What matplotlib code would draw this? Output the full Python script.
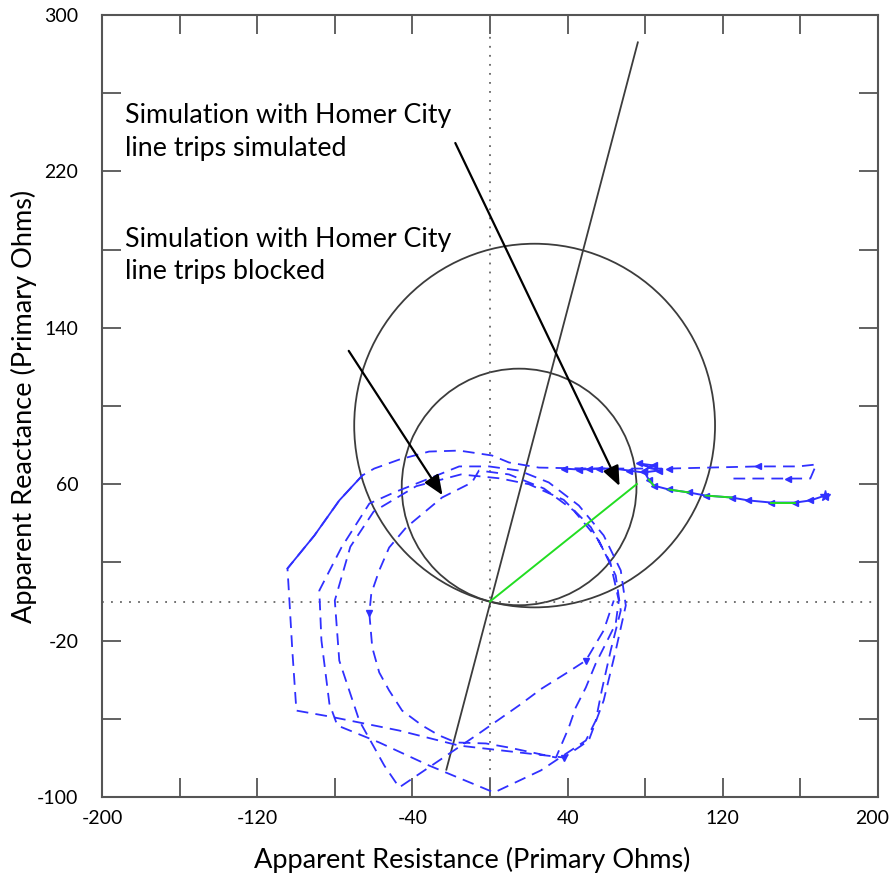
import matplotlib
matplotlib.use("Agg")
import matplotlib.pyplot as plt
from matplotlib.patches import Circle
from matplotlib.transforms import ScaledTranslation

plt.rcParams['font.family'] = ['Lato', 'DejaVu Sans']

# relay characteristic circles (center x, center y, radius) in primary ohms
circle_cx = [23.0, 15.0]
circle_cy = [90.0, 58.6]
circle_r = [93.0, 60.5]

# line through origin (blinder / line angle)
angle_x = [-22.5, 76.2]
angle_y = [-86.0, 286.0]

# green line (line impedance)
zline_x = [0.0, 75.7]
zline_y = [0.0, 60.1]

# trajectory with line trips blocked (dashed)
blocked_x = [125.5, 153.8, 165.1, 168.2, 159.0, 138.4, 112.7, 92.1, 76.6, 50.9, 25.2,
             9.8, 1.0, -15.9, -31.4, -46.8, -59.7, -65.8, -77.7, -90.5, -104.4,
             -103.4, -101.9, -99.8, -82.8, -46.8, -15.9, 14.9, 38.1, 50.9, 58.6,
             64.8, 70.0, 67.4, 58.6, 45.8, 30.3, 14.9,
             -0.5, -15.9, -31.4, -49.4, -62.2, -76.6, -88.0, -86.9, -82.8, -78.7,
             -57.1, -31.4, 2.1, 26.2, 49.4, 54.5, 57.6, 62.2, 67.4, 64.8, 56.1,
             43.2, 27.8, 9.8, -5.7,
             -9.3, -24.7, -43.2, -52.0, -57.1, -61.2, -62.2, -60.7, -57.1, -52.0,
             -45.3, -35.0, -26.2, -17.5, -2.1, 9.8, 21.6, 34.0, 40.6, 44.2, 49.4,
             54.5, 59.7, 64.8, 66.4, 62.0, 52.0, 38.0, 20.0, 5.0,
             -15.0, -38.0, -60.0, -72.0, -80.0, -77.7, -67.4, -54.5, -46.8, -26.2,
             -5.7, 14.9, 26.7, 39.1, 49.4, 58.6, 63.8]
blocked_y = [62.9, 62.9, 62.9, 70.1, 69.1, 69.1, 68.5, 68.0, 68.0, 68.0, 68.5,
             71.1, 74.7, 77.2, 76.7, 72.6, 68.0, 64.5, 51.7, 33.8, 16.9,
             0.5, -25.1, -55.8, -58.8, -66.0, -73.7, -77.2, -79.8, -71.1, -50.6,
             -25.1, -2.0, 15.9, 33.8, 49.1, 60.9, 67.0,
             69.1, 69.1, 62.9, 55.8, 50.1, 27.6, 5.6, -19.9, -52.2, -63.4,
             -72.1, -83.9, -97.7, -86.4, -71.1, -60.9, -45.5, -25.1, -4.6, 13.3, 31.2,
             46.5, 57.8, 65.0, 67.0,
             60.9, 53.2, 37.9, 27.6, 15.9, 4.1, -6.1, -23.5, -36.3, -45.5,
             -55.8, -63.4, -68.5, -72.1, -72.6, -74.7, -77.2, -79.8, -64.5, -54.2, -44.0,
             -31.7, -21.5, -11.3, 0.5, 20.0, 38.0, 52.0, 60.0, 63.0,
             65.0, 59.0, 46.0, 28.0, 0.5, -30.2, -60.9, -83.9, -95.1, -81.3,
             -67.5, -53.2, -44.5, -36.8, -30.2, -14.8, 0.5]
solid_part = (17, 21)

# direction markers on the blocked trajectory
blk_mk_x = [138.4, 92.1, 50.9, 153.8]
blk_mk_y = [69.1, 68.0, 68.0, 62.9]
blk_mk_down_x = [-62.2, 49.4, 38.1]
blk_mk_down_y = [-6.1, -30.2, -79.8]

# trajectory with line trips simulated (solid)
sim_x = [172.8, 165.1, 157.4, 145.1, 133.2, 124.5, 111.1, 102.4, 92.1, 84.4, 81.8,
         79.2, 84.4, 76.6, 86.9, 79.2, 71.5, 63.8, 56.1, 45.8, 38.1]
sim_y = [54.2, 51.7, 50.6, 50.6, 51.7, 53.2, 54.2, 55.8, 57.3, 59.3, 62.4,
         67.0, 69.6, 70.6, 67.0, 66.0, 67.0, 68.0, 68.0, 67.5, 68.0]
green_parts = [(2, 4), (5, 7), (7, 9), (9, 11)]

fig = plt.figure(figsize=(8.91, 8.77), dpi=100)
ax = fig.add_axes([0.1145, 0.0912, 0.8709, 0.8917])

blue = '#3030ff'
gray = '#3c3c3c'

ax.axvline(0, color='#666666', lw=1.3, ls=(0, (1, 4)))
ax.axhline(0, color='#666666', lw=1.3, ls=(0, (1, 4)))

for cx, cy, r in zip(circle_cx, circle_cy, circle_r):
    ax.add_patch(Circle((cx, cy), r, fill=False, ec=gray, lw=1.3))
ax.plot(angle_x, angle_y, color=gray, lw=1.3)

ax.plot(blocked_x, blocked_y, color=blue, lw=1.3, dashes=(6.5, 4))
a, b = solid_part
ax.plot(blocked_x[a:b], blocked_y[a:b], color=blue, lw=1.3)
ax.plot(blk_mk_x, blk_mk_y, ls='none', marker='<', ms=5, color=blue)
ax.plot(blk_mk_down_x, blk_mk_down_y, ls='none', marker='v', ms=5, color=blue)

ax.plot(zline_x, zline_y, color='#22dd22', lw=1.4)

ax.plot(sim_x, sim_y, color=blue, lw=1.4, marker='<', ms=4.5)
for a, b in green_parts:
    ax.plot(sim_x[a:b], sim_y[a:b], color='#22dd22', lw=1.4)
ax.plot(sim_x[:1], sim_y[:1], marker='*', ms=8, color=blue, ls='none')

# annotations
ax.text(-188, 240, "Simulation with Homer City\nline trips simulated", fontsize=19.3,
        va='center', ha='left', linespacing=1.38)
ax.annotate("", xy=(67.4, 57.8), xytext=(-18.5, 235.8),
            arrowprops=dict(arrowstyle='-|>,head_length=1.2,head_width=0.5',
                            color='black', lw=1.6))
ax.text(-188, 177, "Simulation with Homer City\nline trips blocked", fontsize=19.3,
        va='center', ha='left', linespacing=1.38)
ax.annotate("", xy=(-23.7, 53.2), xytext=(-73.6, 129.4),
            arrowprops=dict(arrowstyle='-|>,head_length=1.2,head_width=0.5',
                            color='black', lw=1.6))

ax.set_xlim(-200, 200)
ax.set_ylim(-100, 300)
xt = list(range(-200, 201, 40))
yt = list(range(-100, 301, 40))
ax.set_xticks(xt)
ax.set_yticks(yt)
ax.set_xticklabels([str(v) if (v + 200) % 80 == 0 else '' for v in xt])
ax.set_yticklabels([str(v) if (v + 100) % 80 == 0 else '' for v in yt])
ax.tick_params(direction='in', length=14, width=1.3, color='#555555',
               top=True, right=True, labelsize=14, pad=17)
ax.tick_params(axis='x', pad=9)
for s in ax.spines.values():
    s.set_color('#555555')
    s.set_linewidth(1.5)
# keep the last x label inside the figure
last = ax.get_xticklabels()[-1]
last.set_transform(last.get_transform() + ScaledTranslation(-6 / 100, 0, fig.dpi_scale_trans))

ax.set_xlabel("Apparent Resistance (Primary Ohms)", fontsize=19.5, labelpad=15)
ax.set_ylabel("Apparent Reactance (Primary Ohms)", fontsize=19.5, labelpad=0)
ax.xaxis.label.set_x(0.477)

fig.savefig("out.png", dpi=100)
